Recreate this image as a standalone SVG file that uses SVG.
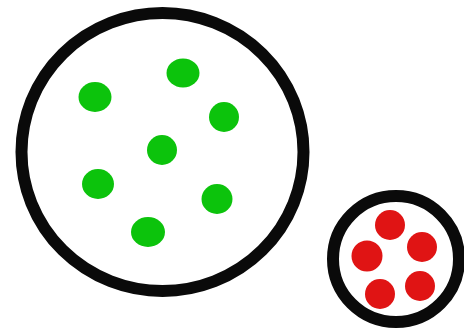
<svg xmlns="http://www.w3.org/2000/svg" width="464" height="335" viewBox="0 0 464 335">
  <style>
    .ring { fill: #ffffff; stroke: #0a0a0a; stroke-width: 12; }
    .g { fill: #0cc30c; }
    .r { fill: #e01414; }
  </style>
  <rect x="0" y="0" width="464" height="335" fill="#ffffff"/>
  <g id="big-cell">
    <ellipse class="ring" cx="162.5" cy="152" rx="141" ry="139"/>
    <ellipse class="g" cx="95" cy="97" rx="16.5" ry="15"/>
    <ellipse class="g" cx="183" cy="73" rx="16.5" ry="14.5"/>
    <ellipse class="g" cx="224" cy="117" rx="15" ry="15"/>
    <ellipse class="g" cx="162" cy="150" rx="15" ry="15"/>
    <ellipse class="g" cx="98" cy="184" rx="16" ry="15"/>
    <ellipse class="g" cx="217" cy="199" rx="15.5" ry="15"/>
    <ellipse class="g" cx="148" cy="232" rx="17" ry="15"/>
  </g>
  <g id="small-cell">
    <circle class="ring" cx="396" cy="259" r="63"/>
    <circle class="r" cx="390" cy="225" r="15"/>
    <circle class="r" cx="422" cy="247" r="15"/>
    <circle class="r" cx="367" cy="256" r="15.5"/>
    <circle class="r" cx="380" cy="294" r="15"/>
    <circle class="r" cx="420" cy="286" r="15"/>
  </g>
  <g id="connectors"/>
</svg>
